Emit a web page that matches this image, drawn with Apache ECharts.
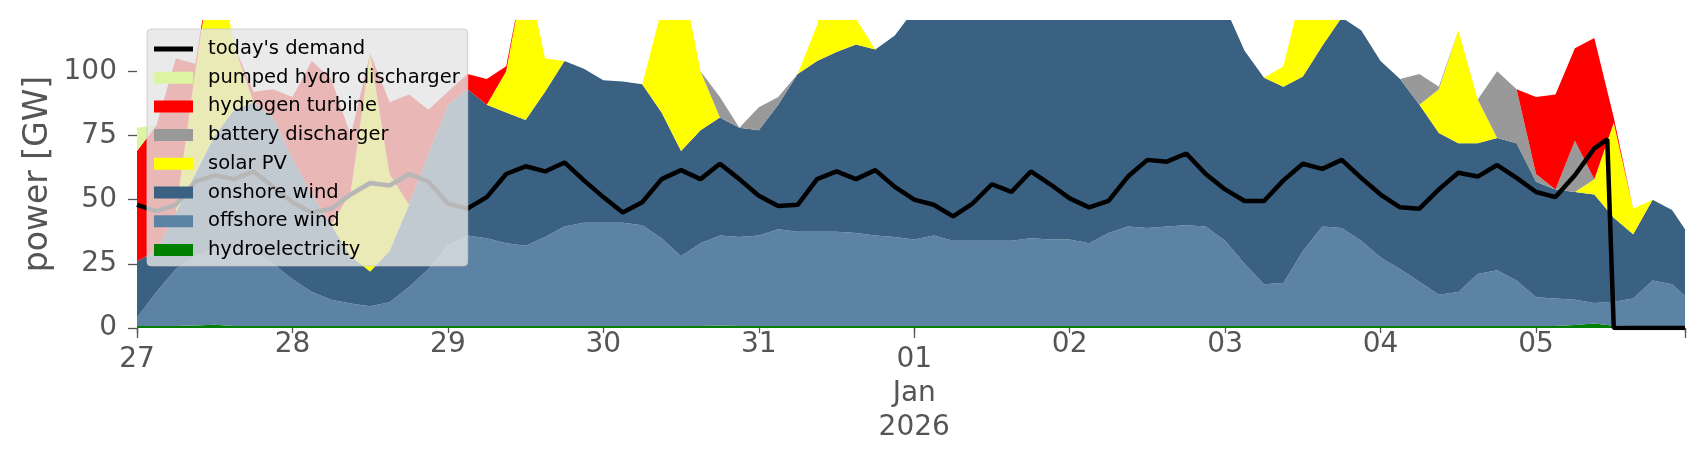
<!DOCTYPE html>
<html>
<head>
<meta charset="utf-8">
<script src="https://cdn.jsdelivr.net/npm/echarts@6/dist/echarts.min.js"></script>
<style>
  html, body { margin: 0; padding: 0; background: #fff; }
  #chart { width: 1706px; height: 460px; }
</style>
</head>
<body>
<div id="chart"></div>
<script>
// hours since 27 Dec 2025 00:00, every 3 h, last sample at 23:00 on 5 Jan
var hours = [0, 3, 6, 9, 12, 15, 18, 21, 24, 27, 30, 33, 36, 39, 42, 45, 48, 51, 54, 57,
  60, 63, 66, 69, 72, 75, 78, 81, 84, 87, 90, 93, 96, 99, 102, 105, 108, 111, 114, 117,
  120, 123, 126, 129, 132, 135, 138, 141, 144, 147, 150, 153, 156, 159, 162, 165, 168, 171, 174, 177,
  180, 183, 186, 189, 192, 195, 198, 201, 204, 207, 210, 213, 216, 219, 222, 225, 228, 231, 234, 237, 239];

// GW per technology, bottom of the stack first
var hydroelectricity = [0.8, 0.8, 0.8, 1.0, 1.3, 0.8, 0.8, 0.8, 0.8, 0.8, 0.8, 0.8, 0.8, 0.8, 0.8, 0.8, 0.8, 0.8, 0.8, 0.8,
  0.8, 0.8, 0.8, 0.8, 0.8, 0.8, 0.8, 0.8, 0.8, 0.8, 1.0, 0.8, 0.8, 0.8, 0.8, 0.8, 0.8, 0.8, 0.8, 0.8,
  0.8, 0.8, 0.8, 0.8, 0.8, 0.8, 0.8, 0.8, 0.8, 0.8, 0.8, 0.8, 0.8, 0.8, 0.8, 0.8, 0.8, 0.8, 0.8, 0.8,
  0.8, 0.8, 0.8, 0.8, 0.8, 0.8, 0.8, 0.8, 0.8, 0.8, 0.8, 0.8, 0.8, 0.8, 1.2, 1.8, 0.9, 0.8, 0.8, 0.8, 0.8];
var offshoreWind = [3.2, 13.2, 22.2, 27.0, 29.7, 30.2, 29.2, 24.2, 18.2, 13.2, 10.2, 8.7, 7.7, 9.2, 15.2, 22.2, 31.2, 35.2, 34.2, 32.2,
  31.2, 34.7, 38.7, 40.2, 40.2, 40.2, 39.2, 34.2, 27.2, 32.2, 35.0, 34.7, 35.2, 37.7, 36.7, 36.7, 36.7, 36.2, 35.2, 34.7,
  33.7, 35.2, 33.2, 33.2, 33.2, 33.2, 34.2, 33.7, 33.7, 32.2, 36.2, 38.7, 38.2, 38.7, 39.2, 38.7, 33.2, 24.2, 16.2, 16.7,
  29.2, 38.7, 38.2, 33.2, 26.7, 22.2, 17.2, 12.2, 13.2, 20.2, 21.7, 17.7, 11.2, 10.7, 9.8, 7.9, 9.3, 10.7, 17.7, 16.2, 11.7];
var onshoreWind = [22, 16, 22, 32, 44, 54, 58, 57, 47, 38, 29, 18.5, 13.5, 20, 32, 45, 55, 57, 52, 51,
  49, 56.5, 64.5, 60, 55.5, 55, 55, 49, 41, 44, 46, 42.5, 41, 48.5, 61.5, 66.5, 70, 73.5, 72.5, 78.5,
  89.5, 94, 99, 101, 102, 101, 99, 97.5, 97.5, 101, 98, 94.5, 94, 92.5, 91, 89.5, 91, 83, 80.5, 76.5,
  68, 70.5, 82, 82, 76.5, 74, 69, 63, 58, 51, 51.5, 53.5, 45, 42.5, 42, 42.3, 32.8, 25, 31.5, 29, 26];
var solarPV = [0, 0, 0, 40, 75, 25, 0, 0, 0, 0, 0, 25, 85, 30, 0, 0, 0, 0, 0, 16,
  60, 13, 0, 0, 0, 0, 0, 40, 70, 23, 0, 0, 0, 0, 0, 14, 45, 10, 0, 0,
  0, 0, 0, 12, 40, 12, 0, 0, 0, 0, 0, 12, 40, 12, 0, 0, 0, 0, 0, 8,
  35, 15, 0, 0, 0, 0, 0, 17, 44, 17, 0, 0, 0, 0, 0, 6, 37, 10, 0, 0, 0];
var batteryDischarger = [0, 0, 0, 0, 0, 0, 0, 0, 0, 0, 0, 0, 0, 0, 0, 0, 0, 0, 0, 0,
  0, 0, 0, 0, 0, 0, 0, 0, 0, 0, 8, 0, 9, 3, 0, 0, 0, 0, 0, 0,
  0, 0, 0, 0, 0, 0, 0, 0, 0, 0, 0, 0, 0, 0, 0, 0, 0, 0, 0, 0,
  0, 0, 0, 0, 0, 0, 12, 1, 0, 0, 26, 21, 3, 0, 20, 0, 0, 0, 0, 0, 0];
var hydrogenTurbine = [43, 49, 60, 3, 0, 0, 4, 11, 24, 52, 57, 22, 0, 28, 43, 17, 5, 6, 10, 2,
  0, 0, 0, 0, 0, 0, 0, 0, 0, 0, 0, 0, 0, 0, 0, 0, 0, 0, 0, 0,
  0, 0, 0, 0, 0, 0, 0, 0, 0, 0, 0, 0, 0, 0, 0, 0, 0, 0, 0, 0,
  0, 0, 0, 0, 0, 0, 0, 0, 0, 0, 0, 0, 30, 37, 36, 55, 2, 0, 0, 0, 0];
var pumpedHydro = [9, 0, 0, 0, 0, 0, 0, 0, 0, 0, 0, 0, 0, 0, 0, 0, 0, 0, 0, 0,
  0, 0, 0, 0, 0, 0, 0, 0, 0, 0, 0, 0, 0, 0, 0, 0, 0, 0, 0, 0,
  0, 0, 0, 0, 0, 0, 0, 0, 0, 0, 0, 0, 0, 0, 0, 0, 0, 0, 0, 0,
  0, 0, 0, 0, 0, 0, 0, 0, 0, 0, 0, 0, 0, 0, 0, 0, 0, 0, 0, 0, 0];

// today's demand has its own sample hours (it drops to zero on 5 Jan)
var demandHours = [0, 3, 6, 9, 12, 15, 18, 21, 24, 27, 30, 33, 36, 39, 42, 45, 48, 51, 54, 57,
  60, 63, 66, 69, 72, 75, 78, 81, 84, 87, 90, 93, 96, 99, 102, 105, 108, 111, 114, 117,
  120, 123, 126, 129, 132, 135, 138, 141, 144, 147, 150, 153, 156, 159, 162, 165, 168, 171, 174, 177,
  180, 183, 186, 189, 192, 195, 198, 201, 204, 207, 210, 213, 216, 219, 222, 225, 227, 228, 231, 234, 237, 239];
var demand = [48, 45.5, 48, 57, 59.5, 58, 61, 55, 49, 45, 46.5, 52, 56.5, 55.5, 60, 57, 48.5, 46.5, 51, 60,
  63, 61, 64.5, 57.5, 51, 45, 49, 58, 61.5, 58, 64, 58, 51.5, 47.5, 48, 58, 61, 58, 61.5, 55,
  50, 48, 43.5, 48.5, 56, 53, 61, 56, 50.5, 47, 49.5, 59, 65.5, 64.8, 68, 60, 54, 49.5, 49.5, 57.5,
  64, 62, 65.5, 58.5, 52, 47, 46.5, 54, 60.5, 59, 63.5, 58.5, 53, 51, 59.5, 70, 73.5, 0, 0, 0, 0, 0];

var dayLabels = ['27', '28', '29', '30', '31', '01', '02', '03', '04', '05'];
var monthLabel = 'Jan\n2026';
var yTicks = [0, 25, 50, 75, 100];

var t0 = Date.UTC(2025, 11, 27);
var HOUR = 3600 * 1000;
var FONT = 'DejaVu Sans';
var TICK_FONT = 28;

function pairs(hs, vals) {
  return hs.map(function (h, i) { return [t0 + h * HOUR, vals[i]]; });
}

function area(name, color, vals) {
  return {
    name: name,
    type: 'line',
    stack: 'gen',
    xAxisIndex: 0,
    data: pairs(hours, vals),
    symbol: 'none',
    color: color,
    lineStyle: { width: 0 },
    areaStyle: { color: color, opacity: 1 },
    emphasis: { disabled: true },
    z: 2
  };
}

var chart = echarts.init(document.getElementById('chart'), null, { renderer: 'canvas' });

chart.setOption({
  animation: false,
  backgroundColor: '#ffffff',
  grid: { left: 137, top: 20, width: 1548, height: 308, containLabel: false },
  legend: {
    orient: 'vertical',
    left: 147,
    top: 29,
    padding: [10, 8, 6, 7],
    itemWidth: 39,
    itemHeight: 12,
    itemGap: 8.7,
    backgroundColor: 'rgba(229,229,229,0.8)',
    borderColor: 'rgba(200,200,200,0.8)',
    borderWidth: 1,
    borderRadius: 4,
    selectedMode: false,
    textStyle: { fontSize: 19.5, lineHeight: 19, color: '#000', fontFamily: FONT, padding: [0, 0, 0, 10] },
    data: [
      { name: "today's demand", icon: 'path://M0,0L0,0ZM0,3.5H39V8.5H0ZM39,12L39,12Z' },
      { name: 'pumped hydro discharger', icon: 'rect' },
      { name: 'hydrogen turbine', icon: 'rect' },
      { name: 'battery discharger', icon: 'rect' },
      { name: 'solar PV', icon: 'rect' },
      { name: 'onshore wind', icon: 'rect' },
      { name: 'offshore wind', icon: 'rect' },
      { name: 'hydroelectricity', icon: 'rect' }
    ]
  },
  xAxis: [
    {
      type: 'time',
      min: t0,
      max: t0 + 239 * HOUR,
      show: false
    },
    {
      // day ticks and labels
      type: 'value',
      min: 0,
      max: 239,
      interval: 24,
      position: 'bottom',
      axisLine: { show: false },
      splitLine: { show: false },
      axisTick: { show: true, length: 5, lineStyle: { color: '#555', width: 1.3 } },
      axisLabel: {
        margin: 3,
        fontSize: TICK_FONT,
        lineHeight: 28,
        color: '#555',
        fontFamily: FONT,
        formatter: function (v) {
          var d = Math.round(v / 24);
          if (v === 239 || d === 0 || d === 5) return '';
          return dayLabels[d];
        }
      }
    },
    {
      // major ticks: start, month change, end
      type: 'value',
      min: 0,
      max: 239,
      interval: 120,
      position: 'bottom',
      axisLine: { show: false },
      splitLine: { show: false },
      axisTick: { show: true, length: 10, lineStyle: { color: '#555', width: 1.3 } },
      axisLabel: {
        margin: 14.5,
        fontSize: TICK_FONT,
        lineHeight: 34,
        color: '#555',
        fontFamily: FONT,
        formatter: function (v) {
          if (v === 0) return dayLabels[0];
          if (v === 120) return dayLabels[5] + '\n' + monthLabel;
          return '';
        }
      }
    }
  ],
  yAxis: {
    type: 'value',
    min: 0,
    max: 120,
    interval: 25,
    axisLine: { show: false },
    splitLine: { show: false },
    axisTick: { show: true, length: 9, customValues: yTicks, lineStyle: { color: '#555', width: 1.3 } },
    axisLabel: {
      customValues: yTicks,
      margin: 20,
      fontSize: TICK_FONT,
      color: '#555',
      fontFamily: FONT,
      formatter: function (v) { return v === 120 ? '' : String(v); }
    }
  },
  graphic: [{
    type: 'text',
    x: 38,
    y: 174,
    rotation: Math.PI / 2,
    style: {
      text: 'power [GW]',
      fontSize: 33,
      fontFamily: FONT,
      fill: '#555',
      textAlign: 'center',
      textVerticalAlign: 'middle'
    }
  }],
  series: [
    area('hydroelectricity', '#008000', hydroelectricity),
    area('offshore wind', '#5c83a3', offshoreWind),
    area('onshore wind', '#3b6182', onshoreWind),
    area('solar PV', '#ffff00', solarPV),
    area('battery discharger', '#999999', batteryDischarger),
    area('hydrogen turbine', '#ff0000', hydrogenTurbine),
    area('pumped hydro discharger', '#dcf5a2', pumpedHydro),
    {
      name: "today's demand",
      type: 'line',
      xAxisIndex: 0,
      data: pairs(demandHours, demand),
      symbol: 'none',
      color: '#000',
      lineStyle: { color: '#000', width: 4.5 },
      emphasis: { disabled: true },
      z: 3
    }
  ]
});
</script>
</body>
</html>
